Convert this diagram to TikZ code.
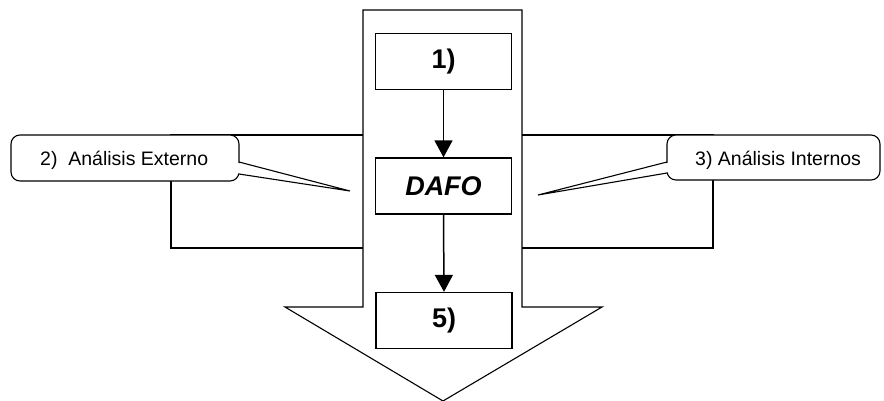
\documentclass[tikz,border=0pt]{standalone}
\usepackage{fontspec}
\setmainfont{Liberation Sans}
\usetikzlibrary{arrows.meta}
\begin{document}
\begin{tikzpicture}[x=1pt,y=-1pt,
  outline/.style={draw=black,line width=1.1pt,line join=miter},
  callout/.style={draw=black,line width=1.1pt,fill=white,rounded corners=9pt},
  pointer/.style={draw=black,line width=1.1pt,line join=miter},
  stepbox/.style={draw=black,line width=1.3pt,fill=white,minimum width=136pt,minimum height=56pt,inner sep=0pt,font=\fontsize{27}{30}\selectfont\bfseries},
  calltext/.style={inner sep=0pt,font=\fontsize{19.5}{22}\selectfont},
  flow/.style={draw=black,line width=1.5pt,-{Triangle[length=17pt,width=18pt]}}]
\useasboundingbox (0,0) rectangle (884,400);
% big arrow (shaft and head)
\draw[outline,fill=white] (363,10) -- (522,10) -- (522,307) -- (602,307) -- (443,401)
  -- (285,307) -- (363,307) -- cycle;
% side arms
\draw[outline] (363,135) -- (171,135) -- (171,248) -- (363,248);
\draw[outline] (522,135) -- (713,135) -- (713,248) -- (522,248);
% left callout
\draw[callout] (11,135) rectangle (239,181);
\fill[white] (237.5,162.8) -- (350,191) -- (237.5,173.2) -- cycle;
\draw[pointer] (239,162) -- (350,191) -- (239,174);
% right callout
\draw[callout] (667,135) rectangle (880,180);
\fill[white] (668.5,162.8) -- (538,195) -- (668.5,172.2) -- cycle;
\draw[pointer] (667,162) -- (538,195) -- (667,173);
\node[calltext,anchor=base west] (ext) at (40,165) {2)\ \ Análisis Externo};
\node[calltext,anchor=base west] (int) at (695,165) {3) Análisis Internos};
% steps
\node[stepbox] (b1) at (443.5,61.5) {1)};
\node[stepbox] (dafo) at (443.5,186) {\itshape DAFO};
\node[stepbox] (b5) at (444,320.5) {5)};
\draw[flow] (b1.south) -- (dafo.north);
\draw[flow] (dafo.south) -- (b5.north);
\end{tikzpicture}
\end{document}
